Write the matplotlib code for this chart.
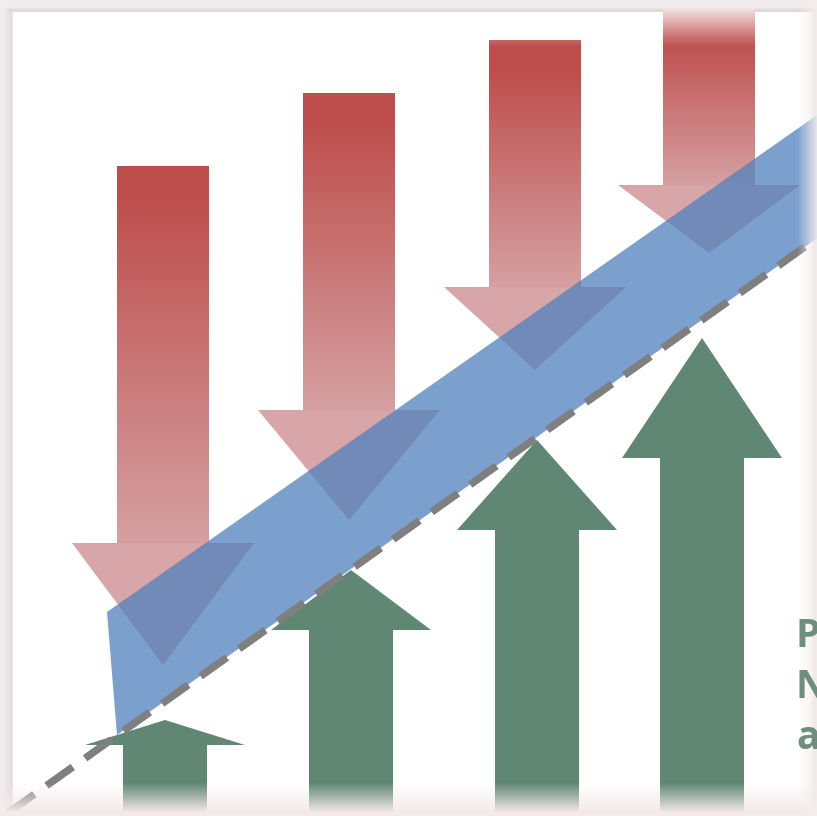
import numpy as np
import matplotlib.pyplot as plt
from matplotlib.patches import Polygon, Rectangle

# falling costs (red) and rising value (green), pixel layout, y grows downwards
red_x = [163, 349, 535, 709]
red_top = [166, 93, 40, 6]
red_neck = [543, 410, 287, 185]
red_tip = [665, 520, 370, 253]

green_x = [165, 351, 537, 702]
green_tip = [720, 570, 440, 338]
green_neck = [745, 630, 530, 458]

band_upper = [(107, 612), (830, 106)]
band_lower = [(117, 735), (830, 229)]
trend = [(8, 813), (830, 229)]

side_text = ["P", "N", "a"]

W, H = 817, 816
fig = plt.figure(figsize=(W / 100, H / 100), dpi=100)
fig.patch.set_facecolor("#f1ecee")
ax = fig.add_axes([0, 0, 1, 1])
ax.set_xlim(0, W)
ax.set_ylim(H, 0)
ax.axis("off")

# page with a soft left shadow
for i, a in enumerate([0.10, 0.07, 0.05, 0.03]):
    ax.add_patch(Rectangle((11 - i * 2, 11 - i), 803 + i * 3, 800 + i * 2,
                           fc="none", ec="#8a8084", lw=2, alpha=a, zorder=0))
page = Rectangle((13, 12), 799, 797, fc="white", ec="none", zorder=0.5)
ax.add_patch(page)


def down_arrow(x, top, neck, tip, sw=46, hw=91):
    return [(x - sw, top), (x + sw, top), (x + sw, neck), (x + hw, neck),
            (x, tip), (x - hw, neck), (x - sw, neck)]


def up_arrow(x, tip, neck, base=830, sw=42, hw=80):
    return [(x - sw, base), (x + sw, base), (x + sw, neck), (x + hw, neck),
            (x, tip), (x - hw, neck), (x - sw, neck)]


c_red = np.array([190, 78, 76]) / 255
c_pink = np.array([214, 160, 162]) / 255
c_head = np.array([216, 166, 168]) / 255

for x, top, neck, tip in zip(red_x, red_top, red_neck, red_tip):
    ys = np.arange(top, tip + 1)
    t = np.clip((ys - top - 30) / (neck - top - 30), 0, 1)[:, None]
    col = c_red * (1 - t) + c_pink * t
    col[ys > neck] = c_head
    # soft fade where the shape runs off the top of the page
    fade = np.clip((ys - 6) / 40, 0, 1)[:, None]
    col = col * fade + np.array([0.96, 0.92, 0.92]) * (1 - fade)
    img = col[:, None, :]
    im = ax.imshow(img, extent=(x - 92, x + 92, tip, top), aspect="auto",
                   origin="upper", interpolation="bilinear", zorder=1)
    poly = Polygon(down_arrow(x, top, neck, tip), closed=True, fc="none", ec="none")
    ax.add_patch(poly)
    im.set_clip_path(poly)

for x, tip, neck in zip(green_x, green_tip, green_neck):
    ax.add_patch(Polygon(up_arrow(x, tip, neck), closed=True,
                         fc="#5f8774", ec="none", zorder=2, clip_path=page))

band = Polygon([band_upper[0], band_upper[1], band_lower[1], band_lower[0]],
               closed=True, fc="#4f81bd", ec="none", alpha=0.75, zorder=3)
ax.add_patch(band)

(ln,) = ax.plot([p[0] for p in trend], [p[1] for p in trend], color="#7f7f7f",
                lw=5.4, solid_capstyle="butt", dash_capstyle="butt", zorder=4)
ln.set_dashes((4.3, 2.0))

# faded page edges at the bottom and the right
bottom = np.ones((40, 1, 4))
bottom[..., :3] = [0.96, 0.92, 0.92]
bottom[:, 0, 3] = np.clip(np.linspace(-0.2, 1.1, 40), 0, 1)
ax.imshow(bottom, extent=(0, W, 816, 776), aspect="auto", origin="upper", zorder=6)

right = np.ones((1, 20, 4))
right[..., :3] = [0.96, 0.93, 0.93]
right[0, :, 3] = np.clip(np.linspace(0, 0.9, 20), 0, 1)
ax.imshow(right, extent=(797, W, H, 0), aspect="auto", origin="upper", zorder=6)

# caption running off the right edge of the page
edge = Rectangle((0, 0), 812, 816, transform=ax.transData)
for i, s in enumerate(side_text):
    t = ax.text(796, 647 + i * 51, s, fontsize=28, fontweight="bold",
                family="Open Sans", color="#628676", alpha=0.92,
                ha="left", va="baseline", zorder=7)
    t.set_clip_path(edge)

ax.set_xlim(0, W)
ax.set_ylim(H, 0)
fig.savefig("out.png", dpi=100, facecolor=fig.get_facecolor())
